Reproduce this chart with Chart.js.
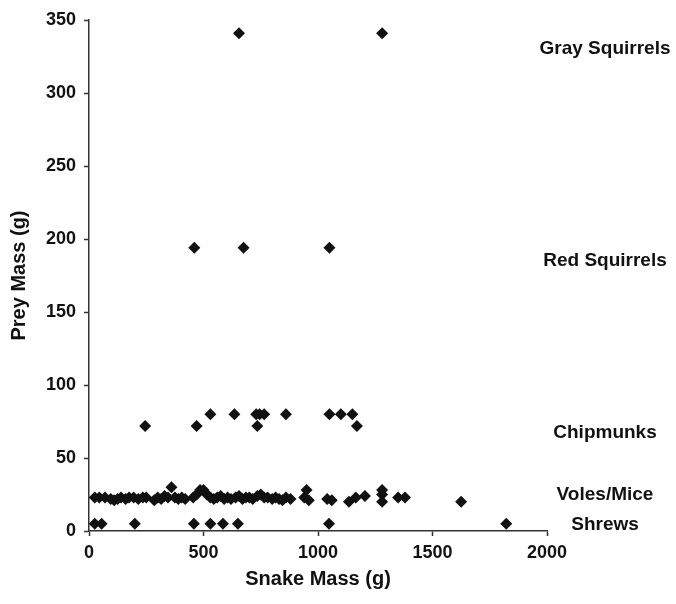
<!DOCTYPE html>
<html>
<head>
<meta charset="utf-8">
<script src="https://cdn.jsdelivr.net/npm/chart.js@4"></script>
<style>
  html, body { margin: 0; padding: 0; background: #fff; }
  #wrap { width: 676px; height: 604px; }
</style>
</head>
<body>
<div id="wrap"><canvas id="c" width="676" height="604"></canvas></div>
<script>
// ---- Data (snake mass g, prey mass g) ----
const grayX = [655, 1280];
const grayY = [341, 341];
const redX = [460, 675, 1050];
const redY = [194, 194, 194];
const chipX = [245, 470, 530, 635, 730, 735, 745, 765, 860, 1050, 1100, 1150, 1170];
const chipY = [72, 72, 80, 80, 80, 72, 80, 80, 80, 80, 80, 80, 72];
const voleX = [25, 45, 70, 95, 110, 125, 140, 160, 175, 195, 215, 235, 250,
  285, 300, 315, 330, 345, 360, 375, 390, 405, 420,
  455, 470, 485, 500, 515, 530, 545, 560, 575, 590, 605, 620, 640, 655, 670, 685, 700, 715, 735, 750, 765, 780, 800, 815, 830, 845, 860, 880,
  940, 950, 960, 1040, 1060, 1135, 1165, 1205, 1280, 1280, 1280, 1350, 1380, 1625];
const voleY = [23, 23, 23, 22, 21, 22, 23, 22, 23, 23, 22, 23, 23,
  21, 23, 22, 24, 23, 30, 23, 22, 23, 22,
  23, 25, 28, 28, 25, 23, 22, 23, 24, 22, 23, 22, 23, 24, 22, 23, 23, 22, 24, 25, 23, 23, 22, 23, 22, 21, 23, 22,
  23, 28, 21, 22, 21, 20, 23, 24, 20, 25, 28, 23, 23, 20];
const shrewX = [25, 55, 200, 458, 530, 585, 650, 1048, 1822];
const shrewY = [5, 5, 5, 5, 5, 5, 5, 5, 5];

const groupNames = ["Gray Squirrels", "Red Squirrels", "Chipmunks", "Voles/Mice", "Shrews"];
const groupLabelLevels = [330, 185, 67, 25, 4];

const xTicks = [0, 500, 1000, 1500, 2000];
const yTicks = [0, 50, 100, 150, 200, 250, 300, 350];

function pts(xs, ys) { return xs.map((x, i) => ({ x: x, y: ys[i] })); }
const allPoints = [].concat(
  pts(grayX, grayY), pts(redX, redY), pts(chipX, chipY), pts(voleX, voleY), pts(shrewX, shrewY)
);

const FONT = "'Liberation Sans', Arial, sans-serif";
const INK = '#111';

const groupLabelPlugin = {
  id: 'groupLabels',
  afterDraw(chart) {
    const ctx = chart.ctx;
    const ys = chart.scales.y;
    ctx.save();
    ctx.fillStyle = INK;
    ctx.font = 'bold 19px ' + FONT;
    ctx.textAlign = 'center';
    ctx.textBaseline = 'middle';
    const cx = chart.chartArea.right + 58;
    groupNames.forEach((name, i) => {
      ctx.fillText(name, cx, ys.getPixelForValue(groupLabelLevels[i]));
    });
    ctx.restore();
  }
};

new Chart(document.getElementById('c'), {
  type: 'scatter',
  data: {
    datasets: [{
      data: allPoints,
      pointStyle: 'rectRot',
      pointRadius: 6,
      pointHoverRadius: 6,
      backgroundColor: INK,
      borderColor: INK,
      borderWidth: 0
    }]
  },
  options: {
    responsive: false,
    animation: false,
    events: [],
    layout: { padding: { top: 20, right: 129, left: 0, bottom: 0 } },
    plugins: { legend: { display: false }, tooltip: { enabled: false } },
    scales: {
      x: {
        type: 'linear', min: 0, max: 2000,
        afterBuildTicks(s) { s.ticks = xTicks.map(v => ({ value: v })); },
        afterFit(s) { s.height = 73; },
        grid: { drawOnChartArea: false, drawTicks: true, tickLength: 5, color: '#333', tickWidth: 1.5 },
        border: { color: '#333', width: 1.5 },
        ticks: { color: INK, font: { family: FONT, size: 18, weight: 'bold' }, padding: 6, maxRotation: 0,
                 callback: v => String(v) },
        title: { display: true, text: 'Snake Mass (g)', color: INK, font: { family: FONT, size: 20, weight: 'bold' }, padding: { top: 0, bottom: 13 } }
      },
      y: {
        type: 'linear', min: 0, max: 350,
        afterBuildTicks(s) { s.ticks = yTicks.map(v => ({ value: v })); },
        afterFit(s) { s.width = 89; },
        grid: { drawOnChartArea: false, drawTicks: true, tickLength: 5, color: '#333', tickWidth: 1.5 },
        border: { color: '#333', width: 1.5 },
        ticks: { color: INK, font: { family: FONT, size: 18, weight: 'bold' }, padding: 8, callback: v => String(v) },
        title: { display: true, text: 'Prey Mass (g)', color: INK, font: { family: FONT, size: 20, weight: 'bold' }, padding: { top: 7, bottom: 0 } }
      }
    }
  },
  plugins: [groupLabelPlugin]
});
</script>
</body>
</html>
